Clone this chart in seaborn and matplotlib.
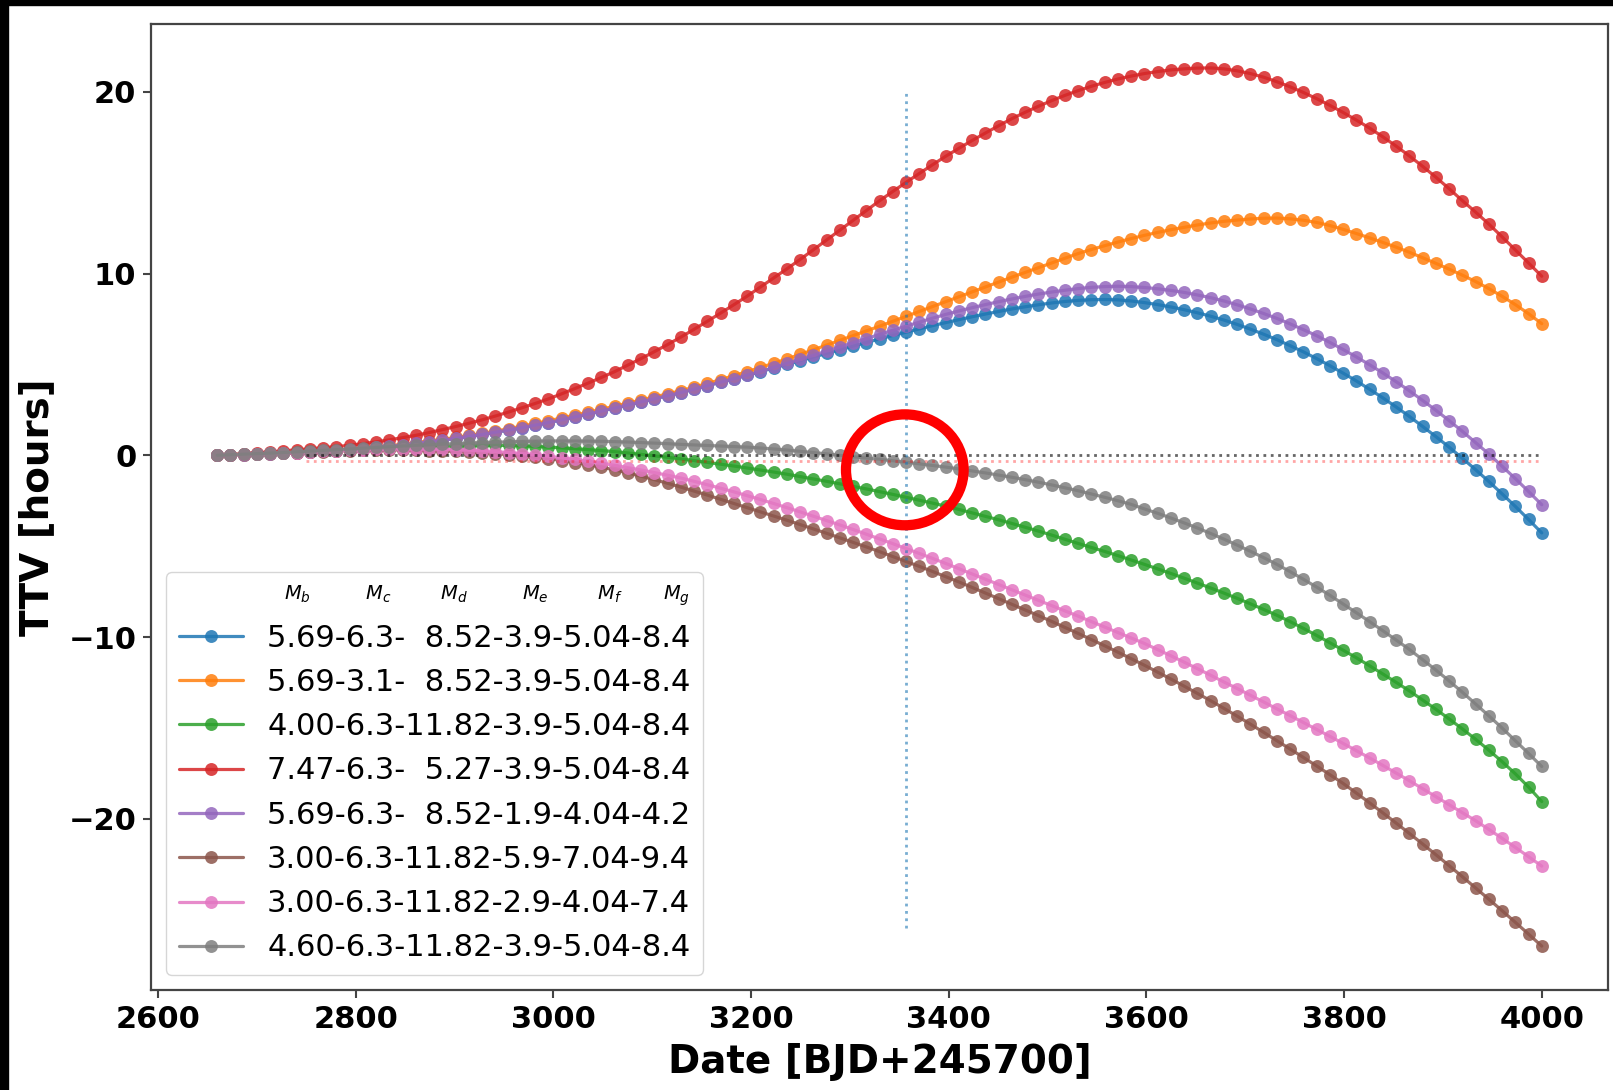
import numpy as np
import matplotlib
matplotlib.use("Agg")
import matplotlib.pyplot as plt
from matplotlib.patches import Ellipse, Rectangle
import seaborn as sns

# Transit epochs of the simulated ephemeris
T0 = 2660.0
PERIOD = 13.4
epoch = np.arange(101)
transit_time = T0 + PERIOD * epoch

# TTV curves (hours) for each set of planet masses
ttv_blue = [0.00, 0.02, 0.04, 0.06, 0.08, 0.10,
            0.13, 0.17, 0.21, 0.25, 0.30,
            0.36, 0.43, 0.50, 0.57, 0.65,
            0.74, 0.83, 0.93, 1.04, 1.15,
            1.27, 1.39, 1.52, 1.66, 1.80,
            1.95, 2.11, 2.27, 2.43, 2.60,
            2.77, 2.94, 3.11, 3.28, 3.45,
            3.64, 3.83, 4.02, 4.21, 4.40,
            4.60, 4.80, 5.00, 5.20, 5.40,
            5.60, 5.80, 6.00, 6.20, 6.40,
            6.59, 6.77, 6.95, 7.13, 7.30,
            7.46, 7.62, 7.77, 7.91, 8.05,
            8.17, 8.28, 8.38, 8.46, 8.52,
            8.56, 8.57, 8.55, 8.49, 8.40,
            8.29, 8.16, 8.01, 7.84, 7.65,
            7.44, 7.20, 6.94, 6.66, 6.36,
            6.03, 5.69, 5.32, 4.93, 4.52,
            4.09, 3.63, 3.16, 2.66, 2.14,
            1.59, 1.03, 0.45, -0.16, -0.79,
            -1.44, -2.12, -2.81, -3.53, -4.27]

ttv_orange = [0.00, 0.02, 0.04, 0.06, 0.08, 0.10,
              0.13, 0.17, 0.21, 0.25, 0.30,
              0.37, 0.44, 0.52, 0.61, 0.70,
              0.79, 0.88, 0.98, 1.09, 1.20,
              1.33, 1.46, 1.60, 1.75, 1.90,
              2.05, 2.21, 2.37, 2.53, 2.70,
              2.87, 3.04, 3.21, 3.38, 3.55,
              3.75, 3.95, 4.16, 4.38, 4.60,
              4.83, 5.06, 5.30, 5.55, 5.80,
              6.06, 6.32, 6.58, 6.84, 7.10,
              7.37, 7.64, 7.91, 8.18, 8.45,
              8.72, 8.99, 9.26, 9.53, 9.80,
              10.06, 10.32, 10.58, 10.84, 11.10,
              11.32, 11.53, 11.73, 11.92, 12.10,
              12.26, 12.41, 12.54, 12.67, 12.78,
              12.87, 12.94, 13.00, 13.04, 13.05,
              13.01, 12.93, 12.81, 12.64, 12.43,
              12.20, 11.96, 11.71, 11.45, 11.17,
              10.87, 10.56, 10.24, 9.91, 9.56,
              9.17, 8.75, 8.29, 7.79, 7.24]

ttv_green = [0.00, 0.03, 0.06, 0.09, 0.12, 0.15,
             0.18, 0.21, 0.24, 0.27, 0.30,
             0.33, 0.36, 0.39, 0.42, 0.45,
             0.47, 0.49, 0.51, 0.53, 0.55,
             0.55, 0.54, 0.52, 0.49, 0.45,
             0.41, 0.36, 0.31, 0.26, 0.20,
             0.13, 0.05, -0.03, -0.11, -0.20,
             -0.29, -0.39, -0.49, -0.59, -0.70,
             -0.81, -0.92, -1.04, -1.17, -1.30,
             -1.43, -1.57, -1.71, -1.85, -2.00,
             -2.15, -2.31, -2.47, -2.63, -2.80,
             -2.98, -3.17, -3.36, -3.55, -3.75,
             -3.96, -4.17, -4.39, -4.62, -4.85,
             -5.07, -5.29, -5.52, -5.76, -6.00,
             -6.25, -6.50, -6.76, -7.03, -7.30,
             -7.58, -7.87, -8.17, -8.48, -8.80,
             -9.15, -9.52, -9.91, -10.31, -10.72,
             -11.14, -11.58, -12.03, -12.49, -12.96,
             -13.46, -13.97, -14.50, -15.05, -15.62,
             -16.22, -16.85, -17.52, -18.25, -19.05]

ttv_red = [0.00, 0.04, 0.09, 0.14, 0.19, 0.25,
           0.30, 0.36, 0.42, 0.48, 0.55,
           0.64, 0.74, 0.85, 0.97, 1.10,
           1.25, 1.41, 1.58, 1.76, 1.95,
           2.16, 2.38, 2.61, 2.85, 3.10,
           3.38, 3.67, 3.97, 4.28, 4.60,
           4.96, 5.32, 5.70, 6.09, 6.50,
           6.93, 7.37, 7.82, 8.28, 8.75,
           9.25, 9.75, 10.25, 10.77, 11.30,
           11.84, 12.38, 12.92, 13.46, 14.00,
           14.51, 15.01, 15.50, 15.98, 16.45,
           16.89, 17.32, 17.73, 18.13, 18.52,
           18.87, 19.20, 19.51, 19.80, 20.06,
           20.30, 20.51, 20.70, 20.86, 21.00,
           21.11, 21.20, 21.26, 21.30, 21.31,
           21.26, 21.15, 21.00, 20.80, 20.55,
           20.27, 19.96, 19.62, 19.25, 18.86,
           18.44, 18.00, 17.52, 17.01, 16.47,
           15.90, 15.30, 14.67, 14.01, 13.38,
           12.72, 12.02, 11.30, 10.58, 9.85]

ttv_purple = [0.00, 0.02, 0.04, 0.06, 0.08, 0.10,
              0.13, 0.17, 0.21, 0.25, 0.30,
              0.36, 0.43, 0.50, 0.57, 0.65,
              0.74, 0.83, 0.93, 1.04, 1.15,
              1.27, 1.39, 1.52, 1.66, 1.80,
              1.95, 2.11, 2.27, 2.43, 2.60,
              2.77, 2.94, 3.11, 3.28, 3.45,
              3.64, 3.83, 4.02, 4.21, 4.40,
              4.61, 4.83, 5.05, 5.27, 5.50,
              5.73, 5.96, 6.19, 6.42, 6.65,
              6.88, 7.10, 7.32, 7.54, 7.75,
              7.94, 8.12, 8.29, 8.45, 8.60,
              8.74, 8.87, 8.98, 9.08, 9.17,
              9.24, 9.28, 9.30, 9.28, 9.23,
              9.16, 9.07, 8.96, 8.82, 8.67,
              8.49, 8.28, 8.05, 7.80, 7.53,
              7.23, 6.91, 6.58, 6.21, 5.82,
              5.41, 4.98, 4.53, 4.05, 3.55,
              3.02, 2.48, 1.91, 1.32, 0.70,
              0.07, -0.60, -1.28, -1.99, -2.72]

ttv_brown = [0.00, 0.02, 0.05, 0.07, 0.10, 0.12,
             0.15, 0.18, 0.20, 0.23, 0.25,
             0.27, 0.28, 0.29, 0.29, 0.28,
             0.26, 0.24, 0.21, 0.18, 0.15,
             0.09, 0.03, -0.04, -0.11, -0.18,
             -0.29, -0.40, -0.52, -0.66, -0.80,
             -0.97, -1.15, -1.34, -1.54, -1.75,
             -1.97, -2.19, -2.42, -2.65, -2.88,
             -3.11, -3.34, -3.57, -3.81, -4.05,
             -4.29, -4.54, -4.79, -5.04, -5.30,
             -5.57, -5.84, -6.11, -6.39, -6.68,
             -6.97, -7.27, -7.58, -7.89, -8.20,
             -8.51, -8.82, -9.14, -9.47, -9.80,
             -10.14, -10.48, -10.83, -11.19, -11.55,
             -11.93, -12.31, -12.70, -13.10, -13.50,
             -13.92, -14.35, -14.79, -15.24, -15.70,
             -16.16, -16.62, -17.09, -17.57, -18.05,
             -18.58, -19.12, -19.67, -20.23, -20.80,
             -21.38, -21.97, -22.57, -23.18, -23.80,
             -24.42, -25.05, -25.69, -26.34, -27.00]

ttv_pink = [0.00, 0.02, 0.05, 0.07, 0.10, 0.12,
            0.15, 0.18, 0.21, 0.25, 0.28,
            0.30, 0.32, 0.34, 0.35, 0.35,
            0.35, 0.33, 0.31, 0.28, 0.25,
            0.20, 0.15, 0.09, 0.02, -0.05,
            -0.14, -0.23, -0.33, -0.44, -0.55,
            -0.68, -0.81, -0.95, -1.10, -1.25,
            -1.43, -1.62, -1.81, -2.01, -2.22,
            -2.43, -2.65, -2.88, -3.11, -3.35,
            -3.59, -3.83, -4.08, -4.34, -4.60,
            -4.86, -5.13, -5.40, -5.67, -5.95,
            -6.24, -6.53, -6.82, -7.11, -7.40,
            -7.69, -7.98, -8.27, -8.56, -8.85,
            -9.15, -9.45, -9.75, -10.05, -10.35,
            -10.69, -11.03, -11.38, -11.74, -12.10,
            -12.47, -12.83, -13.20, -13.57, -13.95,
            -14.32, -14.70, -15.08, -15.46, -15.85,
            -16.25, -16.65, -17.06, -17.48, -17.90,
            -18.34, -18.78, -19.22, -19.66, -20.10,
            -20.58, -21.07, -21.57, -22.08, -22.60]

ttv_gray = [0.00, 0.03, 0.06, 0.09, 0.12, 0.15,
            0.19, 0.23, 0.27, 0.31, 0.35,
            0.39, 0.43, 0.47, 0.51, 0.55,
            0.58, 0.61, 0.64, 0.67, 0.70,
            0.72, 0.74, 0.76, 0.78, 0.79,
            0.79, 0.79, 0.78, 0.77, 0.75,
            0.73, 0.70, 0.67, 0.64, 0.60,
            0.57, 0.54, 0.51, 0.48, 0.45,
            0.40, 0.35, 0.29, 0.22, 0.15,
            0.08, 0.00, -0.08, -0.15, -0.22,
            -0.30, -0.38, -0.47, -0.56, -0.65,
            -0.75, -0.86, -0.97, -1.09, -1.21,
            -1.34, -1.48, -1.63, -1.79, -1.95,
            -2.13, -2.31, -2.50, -2.70, -2.95,
            -3.19, -3.45, -3.72, -4.00, -4.30,
            -4.61, -4.94, -5.28, -5.63, -6.00,
            -6.40, -6.82, -7.25, -7.70, -8.18,
            -8.66, -9.15, -9.65, -10.16, -10.68,
            -11.24, -11.81, -12.41, -13.03, -13.68,
            -14.33, -15.00, -15.70, -16.40, -17.12]

# Mass combinations  Mb-Mc-Md-Me-Mf-Mg
mass_labels = ["5.69-6.3-  8.52-3.9-5.04-8.4",
               "5.69-3.1-  8.52-3.9-5.04-8.4",
               "4.00-6.3-11.82-3.9-5.04-8.4",
               "7.47-6.3-  5.27-3.9-5.04-8.4",
               "5.69-6.3-  8.52-1.9-4.04-4.2",
               "3.00-6.3-11.82-5.9-7.04-9.4",
               "3.00-6.3-11.82-2.9-4.04-7.4",
               "4.60-6.3-11.82-3.9-5.04-8.4"]
series = [ttv_blue, ttv_orange, ttv_green, ttv_red,
          ttv_purple, ttv_brown, ttv_pink, ttv_gray]
legend_title = (r"$M_b$" + " " * 9 + r"$M_c$" + " " * 8 + r"$M_d$" + " " * 9
                + r"$M_e$" + " " * 8 + r"$M_f$" + " " * 7 + r"$M_g$")

# Reference date and zero-TTV guides
t_now = 3357
zero_start, zero_end = 2750, 4000
shifted_zero = -0.3

sns.set_style("ticks")
plt.rcParams["font.family"] = ["DejaVu Sans"]
plt.rcParams["text.color"] = "black"
plt.rcParams["axes.labelcolor"] = "black"
plt.rcParams["xtick.labelcolor"] = "black"
plt.rcParams["ytick.labelcolor"] = "black"
palette = sns.color_palette("tab10", 8)

W, H = 1613, 1090
fig = plt.figure(figsize=(W / 100, H / 100), dpi=100)
ax = fig.add_axes([151 / W, 1 - 990 / H, (1608 - 151) / W, (990 - 24) / H])

handles = []
for vals, col, lab in zip(series, palette, mass_labels):
    sns.lineplot(x=transit_time, y=vals, ax=ax, color=col, marker="o",
                 markersize=9.3, markeredgewidth=0, linewidth=2.3,
                 alpha=0.85, errorbar=None, sort=False, label=lab)
    handles.append(ax.lines[-1])

ax.vlines(t_now, -26, 20, colors=palette[0], linestyles=":",
          linewidth=2.0, alpha=0.6, zorder=5)
ax.hlines(0, zero_start, zero_end, colors="k", linestyles=":",
          linewidth=2.0, alpha=0.6, zorder=5)
ax.hlines(shifted_zero, zero_start, zero_end, colors="red", linestyles=":",
          linewidth=2.0, alpha=0.35, zorder=5)

ax.add_patch(Ellipse((3355.6, -0.8), width=119, height=6.1, fill=False,
                     edgecolor="#ff0000", linewidth=7.4, zorder=6))

ax.set_xticks(range(2600, 4001, 200))
ax.set_yticks([-20, -10, 0, 10, 20])
ax.tick_params(axis="both", labelsize=22, length=5.5, width=1.5, pad=5,
               color="#444444", labelcolor="black")
for lbl in ax.get_xticklabels() + ax.get_yticklabels():
    lbl.set_fontweight("bold")
ax.set_xlabel("Date [BJD+245700]", fontsize=28, fontweight="bold",
              labelpad=7, color="black")
ax.set_ylabel("TTV [hours]", fontsize=28, fontweight="bold", labelpad=9,
              color="black")
for sp in ax.spines.values():
    sp.set_color("#444444")
    sp.set_linewidth(1.6)

leg = ax.legend(handles, mass_labels, loc="lower left", fontsize=22,
                title=legend_title, title_fontsize=14, handlelength=2.1,
                alignment="right")
for txt in leg.get_texts():
    txt.set_color("black")

# dark frame strips along the left and top edges
fig.add_artist(Rectangle((0, 0), 8 / W, 1, transform=fig.transFigure,
                         color="black", zorder=10))
fig.add_artist(Rectangle((0, 1 - 5 / H), 1, 5 / H, transform=fig.transFigure,
                         color="black", zorder=10))

fig.savefig("out.png", dpi=100)
